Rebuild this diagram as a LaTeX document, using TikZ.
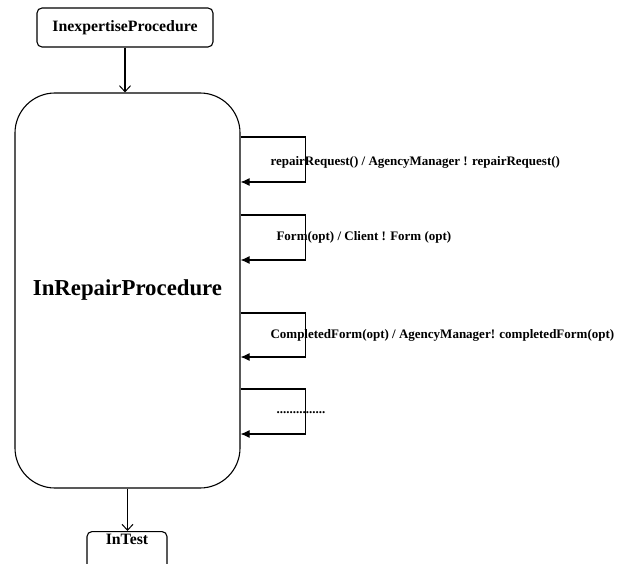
\documentclass[tikz,border=0pt]{standalone}
\usepackage{fontspec}
\setmainfont{Liberation Serif}
\usetikzlibrary{arrows.meta}
\begin{document}
\begin{tikzpicture}[x=1pt,y=-1pt,
  line width=1.1pt,
  state/.style={draw, rounded corners=5pt, font=\bfseries\fontsize{15.8}{18}\selectfont, inner sep=0pt},
  label/.style={anchor=west, font=\bfseries\fontsize{13}{15}\selectfont, inner sep=0pt},
  flow/.style={-{Straight Barb[length=6pt,width=11pt,line width=1pt]}},
  loop/.style={-{Latex[length=9pt,width=8pt]}}]
\useasboundingbox (0,0) rectangle (621,564);

% states
\node[state, minimum width=176pt, minimum height=39pt] (ip) at (125,27.5) {InexpertiseProcedure};
\node[draw, rounded corners=40pt, minimum width=225pt, minimum height=395pt,
      font=\bfseries\fontsize{22.8}{26}\selectfont] (main) at (127.5,290.5) {InRepairProcedure};
\node[state, anchor=north, minimum width=80pt, text height=11pt, text depth=32pt, inner ysep=2pt] (intest) at (127,531) {InTest};

% transitions between states
\draw[flow] (ip.south) -- (ip.south |- main.north);
\draw[flow] (main.south) -- (main.south |- intest.north);

% self transitions
\foreach \t/\b/\n in {137/182/a, 215/260/b, 313/357/c, 389/434/d} {
  \coordinate (s\n) at (main.east |- 0,\t);
  \coordinate (e\n) at (main.east |- 0,\b);
  \draw[loop] (s\n) -- ++(65,0) |- (e\n);
}
\node[label] (la) at (270,162) {repairRequest() / AgencyManager ! repairRequest()};
\node[label] (lb) at (276,237) {Form(opt) / Client ! Form (opt)};
\node[label] (lc) at (270,335) {CompletedForm(opt) / AgencyManager! completedForm(opt)};
\node[label] (ld) at (276,413) {...............};
\end{tikzpicture}
\end{document}
